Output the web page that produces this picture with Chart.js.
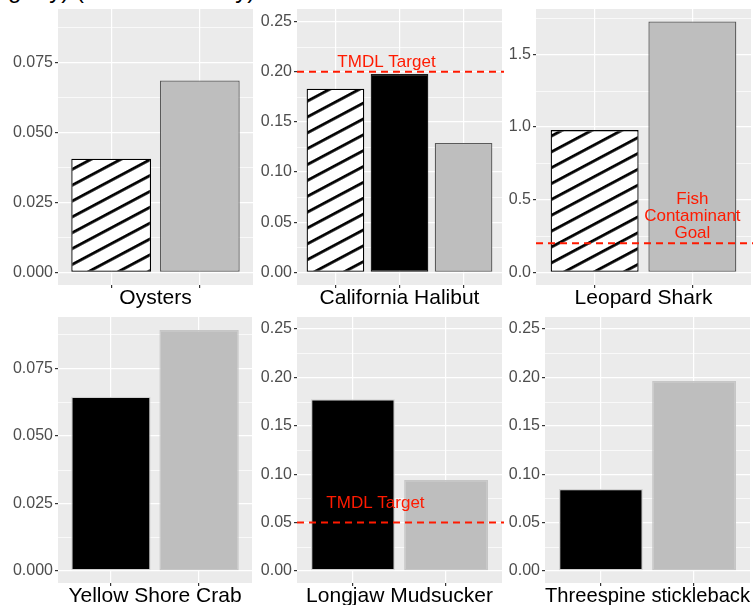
<!DOCTYPE html>
<html><head><meta charset="utf-8">
<script src="https://cdn.jsdelivr.net/npm/chart.js@4.4.0/dist/chart.umd.min.js"></script>
<style>
html,body{margin:0;padding:0;width:756px;height:605px;overflow:hidden;background:#fff;}
canvas{position:absolute;}
#ttl{position:absolute;top:-22px;font:24px 'Liberation Sans',Arial,sans-serif;line-height:24px;white-space:nowrap;color:#000;}
</style></head><body>
<div id="ttl">Hg (mg/kg dry) (Tissue Mercury)</div>
<script>
// ---------- data ----------
const panelNames = ['Oysters','California Halibut','Leopard Shark','Yellow Shore Crab','Longjaw Mudsucker','Threespine stickleback'];
const seriesNames = ['Series 1','Series 2','Series 3'];
const hatchedValues = [0.0406, 0.1831, 0.978, null, null, null];
const blackValues   = [null, 0.1978, null, 0.0645, 0.1774, 0.0847];
const grayValues    = [0.0685, 0.129, 1.724, 0.0892, 0.094, 0.1963];
const yAxisTop      = [0.0895, 0.25, 1.724, 0.0895, 0.25, 0.25];
const yTickLabels = [
  ['0.000','0.025','0.050','0.075'],
  ['0.00','0.05','0.10','0.15','0.20','0.25'],
  ['0.0','0.5','1.0','1.5'],
  ['0.000','0.025','0.050','0.075'],
  ['0.00','0.05','0.10','0.15','0.20','0.25'],
  ['0.00','0.05','0.10','0.15','0.20','0.25']
];
const targetValues = [null, 0.2, 0.2, null, 0.05, null];
const targetLabels = [null, ['TMDL Target'], ['Fish','Contaminant','Goal'], null, ['TMDL Target'], null];

// ---------- layout / style ----------
const FONT = "'Liberation Sans', Arial, Helvetica, sans-serif";
Chart.defaults.font.family = FONT;
const layout = [
  {L:0,   T:0,   W:256, H:312, area:[58,9,253,285],   pb:0.8},
  {L:256, T:0,   W:250, H:312, area:[297,9,502,285],  pb:0.8},
  {L:506, T:0,   W:250, H:312, area:[536,9,751,285],  pb:0.8},
  {L:0,   T:305, W:256, H:315, area:[58,317,252,583], pb:11.0},
  {L:256, T:305, W:250, H:315, area:[297,317,502,583],pb:11.0},
  {L:506, T:305, W:250, H:315, area:[545,317,750,583],pb:11.0}
];
const labelPos = [null, {x:1.797, y:0.2097}, {x:2.0, y:0.387}, null, {x:1.242, y:0.0702}, null];
const borderSets = [
  {hatch:'#000000', black:'#1a1a1a', gray:'#5a5a5a'},
  {hatch:'#000000', black:'#1a1a1a', gray:'#5a5a5a'},
  {hatch:'#000000', black:'#1a1a1a', gray:'#5a5a5a'},
  {hatch:'#000000', black:'#d0d0d0', gray:'#c6c6c6'},
  {hatch:'#000000', black:'#d0d0d0', gray:'#c6c6c6'},
  {hatch:'#000000', black:'#d0d0d0', gray:'#c6c6c6'}
];

(function(){
  const c = document.createElement('canvas').getContext('2d');
  c.font = "24px " + FONT;
  const w = c.measureText('Hg (mg/k').width;
  document.getElementById('ttl').style.left = (8 - w) + 'px';
})();

function makeHatch(ctx){
  const tile = document.createElement('canvas');
  tile.width = 10; tile.height = 14;
  const t = tile.getContext('2d');
  t.fillStyle = '#ffffff'; t.fillRect(0,0,10,14);
  t.fillStyle = '#000000'; t.fillRect(0,0,10,2.8);
  const pat = ctx.createPattern(tile,'repeat');
  pat.setTransform(new DOMMatrix().rotateSelf(-28));
  return pat;
}

const ggPlugin = {
  id:'gg',
  beforeDraw(chart, args, opts){
    const {ctx, chartArea:a, scales:{y}} = chart;
    ctx.save();
    ctx.fillStyle = '#EBEBEB';
    ctx.fillRect(a.left, a.top, a.right-a.left, a.bottom-a.top);
    const t = opts.ticks; const step = t[1]-t[0];
    ctx.strokeStyle = '#ffffff'; ctx.lineWidth = 0.7;
    for (let k = -1; k <= t.length; k++){
      const v = t[0] + step*(k+0.5);
      if (v < y.min || v > y.max) continue;
      const py = Math.round(y.getPixelForValue(v)) + 0.5;
      ctx.beginPath(); ctx.moveTo(a.left, py); ctx.lineTo(a.right, py); ctx.stroke();
    }
    ctx.restore();
  },
  afterDatasetsDraw(chart, args, opts){
    if (opts.target == null) return;
    const {ctx, chartArea:a, scales:{x,y}} = chart;
    ctx.save();
    const py = y.getPixelForValue(opts.target);
    ctx.strokeStyle = '#FF1a00'; ctx.lineWidth = 2; ctx.setLineDash([7,5]);
    ctx.beginPath(); ctx.moveTo(a.left, py); ctx.lineTo(a.right+2, py); ctx.stroke();
    ctx.setLineDash([]);
    ctx.fillStyle = '#FF1a00';
    ctx.font = '17px ' + FONT;
    ctx.textAlign = 'center'; ctx.textBaseline = 'middle';
    const lines = opts.label; const lh = 17;
    const cx = x.getPixelForValue(opts.pos.x);
    const cy = y.getPixelForValue(opts.pos.y);
    lines.forEach((s,i)=>{ ctx.fillText(s, cx, cy + (i-(lines.length-1)/2)*lh); });
    ctx.restore();
  }
};

panelNames.forEach((name, p) => {
  const lay = layout[p];
  const cv = document.createElement('canvas');
  cv.width = lay.W; cv.height = lay.H;
  cv.style.left = lay.L + 'px'; cv.style.top = lay.T + 'px';
  document.body.appendChild(cv);
  const ctx = cv.getContext('2d');
  const hatch = makeHatch(ctx);

  const series = [
    {v: hatchedValues[p], fill: hatch,     border: borderSets[p].hatch},
    {v: blackValues[p],   fill: '#000000', border: borderSets[p].black},
    {v: grayValues[p],    fill: '#BEBEBE', border: borderSets[p].gray}
  ].filter(s => s.v !== null);
  const n = series.length;
  const positions = series.map((s,i)=> i+1);
  const data = series.map((s,i)=> ({x: positions[i], y: s.v}));

  const top = yAxisTop[p];
  const yMin = -0.05*top, yMax = top*1.05;
  const tickVals = yTickLabels[p].map(Number);
  const [al, at, ar, ab] = lay.area;

  new Chart(ctx, {
    type:'bar',
    data:{ datasets:[{
      label: name,
      data,
      backgroundColor: series.map(s=>s.fill),
      borderColor: series.map(s=>s.border),
      borderWidth: 1.3,
      borderSkipped: false,
      categoryPercentage: 1.0,
      barPercentage: 0.9
    }]},
    options:{
      responsive:false, animation:false, devicePixelRatio:1,
      layout:{ padding:{ left:0, top: at - lay.T, right: lay.L + lay.W - ar, bottom:0 } },
      plugins:{ legend:{display:false}, tooltip:{enabled:false},
        gg:{ ticks: tickVals, target: targetValues[p], label: targetLabels[p], pos: labelPos[p] } },
      scales:{
        x:{ type:'linear', min:0.4, max:n+0.6, bounds:'data', offset:false,
          afterBuildTicks: s => { s.ticks = positions.map(v=>({value:v})); },
          afterFit: s => { s.height = lay.T + lay.H - ab; s.paddingLeft = 0; s.paddingRight = 0; s.paddingTop=0; s.paddingBottom=0; },
          grid:{ offset:false, color:'#ffffff', lineWidth:1.2, tickColor:'#333333', tickLength:3, drawTicks:true },
          border:{ display:false },
          ticks:{ callback: ()=>'', autoSkip:false, padding:0 },
          title:{ display:true, text:name, color:'#000000', font:{size:21, family:FONT}, padding:{top:0, bottom:lay.pb} }
        },
        y:{ type:'linear', min:yMin, max:yMax, bounds:'data',
          afterBuildTicks: s => { s.ticks = tickVals.map(v=>({value:v})); },
          afterFit: s => { s.width = al - lay.L; s.paddingLeft = 0; s.paddingRight = 0; s.paddingTop=0; s.paddingBottom=0; },
          grid:{ offset:false, color:'#ffffff', lineWidth:1.2, tickColor:'#333333', tickLength:3, drawTicks:true },
          border:{ display:false },
          ticks:{ callback:(v,i)=> yTickLabels[p][i], color:'#4D4D4D', font:{size:16, family:FONT}, padding:2, autoSkip:false }
        }
      }
    },
    plugins:[ggPlugin]
  });
});
</script>
</body></html>
